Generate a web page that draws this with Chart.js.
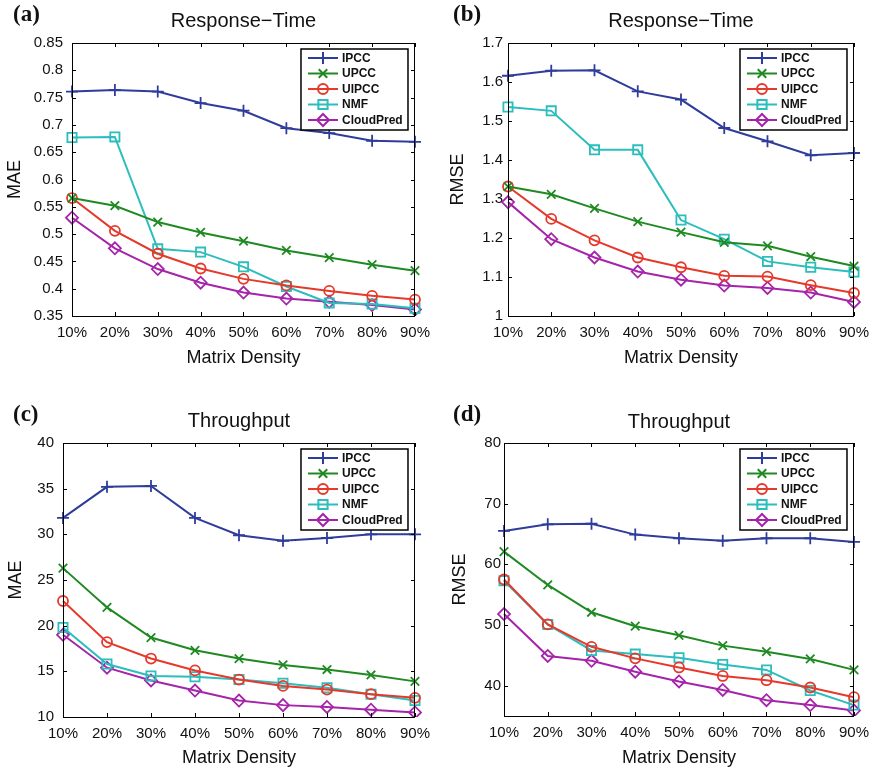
<!DOCTYPE html>
<html>
<head>
<meta charset="utf-8">
<script src="https://cdn.jsdelivr.net/npm/chart.js@4"></script>
<style>
  html, body { margin: 0; padding: 0; background: #fff; }
  #wrap { position: relative; width: 877px; height: 772px; }
  canvas { position: absolute; }
</style>
</head>
<body>
<div id="wrap">
  <canvas id="chartA" style="left:0;top:0"></canvas>
  <canvas id="chartB" style="left:438px;top:0"></canvas>
  <canvas id="chartC" style="left:0;top:386px"></canvas>
  <canvas id="chartD" style="left:438px;top:386px"></canvas>
</div>
<script>
// Data
const densities = ['10%', '20%', '30%', '40%', '50%', '60%', '70%', '80%', '90%'];
const methods = ['IPCC', 'UPCC', 'UIPCC', 'NMF', 'CloudPred'];

// (a) Response-Time MAE
const rtMaeIPCC = [0.761, 0.764, 0.761, 0.740, 0.726, 0.694, 0.685, 0.671, 0.669];
const rtMaeUPCC = [0.566, 0.552, 0.522, 0.503, 0.487, 0.470, 0.457, 0.444, 0.433];
const rtMaeUIPCC = [0.566, 0.506, 0.464, 0.437, 0.418, 0.406, 0.396, 0.387, 0.380];
const rtMaeNMF = [0.677, 0.678, 0.473, 0.467, 0.440, 0.404, 0.374, 0.372, 0.364];
const rtMaeCloudPred = [0.530, 0.474, 0.436, 0.411, 0.393, 0.382, 0.376, 0.370, 0.362];
const rtMaeTicks = [0.35, 0.4, 0.45, 0.5, 0.55, 0.6, 0.65, 0.7, 0.75, 0.8, 0.85];

// (b) Response-Time RMSE
const rtRmseIPCC = [1.616, 1.629, 1.630, 1.576, 1.555, 1.482, 1.448, 1.412, 1.418];
const rtRmseUPCC = [1.332, 1.312, 1.276, 1.242, 1.215, 1.189, 1.180, 1.152, 1.128];
const rtRmseUIPCC = [1.332, 1.249, 1.194, 1.150, 1.125, 1.103, 1.101, 1.079, 1.059];
const rtRmseNMF = [1.536, 1.526, 1.426, 1.426, 1.246, 1.197, 1.140, 1.125, 1.113];
const rtRmseCloudPred = [1.292, 1.197, 1.150, 1.114, 1.093, 1.078, 1.072, 1.060, 1.036];
const rtRmseTicks = [1, 1.1, 1.2, 1.3, 1.4, 1.5, 1.6, 1.7];

// (c) Throughput MAE
const tpMaeIPCC = [31.8, 35.2, 35.3, 31.8, 29.9, 29.3, 29.6, 30.0, 30.0];
const tpMaeUPCC = [26.3, 22.0, 18.7, 17.3, 16.4, 15.7, 15.2, 14.6, 13.9];
const tpMaeUIPCC = [22.7, 18.2, 16.4, 15.1, 14.1, 13.4, 13.0, 12.5, 12.1];
const tpMaeNMF = [19.8, 15.8, 14.5, 14.4, 14.1, 13.7, 13.2, 12.5, 11.8];
const tpMaeCloudPred = [19.0, 15.4, 14.0, 12.9, 11.8, 11.3, 11.1, 10.8, 10.5];
const tpMaeTicks = [10, 15, 20, 25, 30, 35, 40];

// (d) Throughput RMSE
const tpRmseIPCC = [65.5, 66.6, 66.7, 64.9, 64.3, 63.9, 64.3, 64.3, 63.7];
const tpRmseUPCC = [62.1, 56.6, 52.1, 49.8, 48.3, 46.6, 45.6, 44.4, 42.6];
const tpRmseUIPCC = [57.5, 50.1, 46.4, 44.5, 43.0, 41.6, 40.9, 39.7, 38.1];
const tpRmseNMF = [57.3, 50.1, 45.8, 45.2, 44.6, 43.5, 42.6, 39.2, 36.8];
const tpRmseCloudPred = [51.8, 44.9, 44.1, 42.3, 40.7, 39.3, 37.6, 36.8, 35.9];
const tpRmseTicks = [40, 50, 60, 70, 80];

// Series styling (MATLAB-like markers)
const styles = [
    { color: '#2f3c9c', point: 'cross', radius: 6 },
    { color: '#1f8a22', point: 'crossRot', radius: 6 },
    { color: '#e6392b', point: 'circle', radius: 5 },
    { color: '#2cbdbd', point: 'rect', radius: 6.5 },
    { color: '#a524aa', point: 'rectRot', radius: 6 }
];

const FONT = '"Liberation Sans", Arial, sans-serif';

// Draws the box, inward ticks, title, panel label and legend
const matlabPlugin = {
    id: 'matlab',
    afterDatasetsDraw(chart, args, opts) {
        const ctx = chart.ctx;
        const a = chart.chartArea;
        const xs = chart.scales.x;
        const ys = chart.scales.y;
        ctx.save();
        ctx.strokeStyle = '#000';
        ctx.lineWidth = 1;
        ctx.strokeRect(a.left + 0.5, a.top + 0.5, a.right - a.left - 1, a.bottom - a.top);
        ctx.beginPath();
        const tl = 4;
        chart.data.labels.forEach((lbl, i) => {
            const x = Math.round(xs.getPixelForValue(i)) + 0.5;
            ctx.moveTo(x, a.bottom); ctx.lineTo(x, a.bottom - tl);
            ctx.moveTo(x, a.top); ctx.lineTo(x, a.top + tl);
        });
        ys.ticks.forEach(t => {
            const y = Math.round(ys.getPixelForValue(t.value)) + 0.5;
            ctx.moveTo(a.left, y); ctx.lineTo(a.left + tl, y);
            ctx.moveTo(a.right, y); ctx.lineTo(a.right - tl, y);
        });
        ctx.stroke();

        // title and panel label
        ctx.fillStyle = '#111';
        ctx.textAlign = 'center';
        ctx.textBaseline = 'middle';
        ctx.font = '20px ' + FONT;
        ctx.fillText(opts.title, (a.left + a.right) / 2, opts.titleY);
        ctx.textAlign = 'left';
        ctx.font = 'bold 23px "Liberation Serif", "Times New Roman", serif';
        ctx.fillText(opts.label, opts.labelX, opts.labelY);

        // legend box
        const w = 107, h = 81;
        const lx = a.right - 7 - w, ly = a.top + 6;
        ctx.fillStyle = '#fff';
        ctx.fillRect(lx, ly, w, h);
        ctx.lineWidth = 1.5;
        ctx.strokeStyle = '#000';
        ctx.strokeRect(lx, ly, w, h);
        chart.data.datasets.forEach((ds, i) => {
            const y = ly + 9 + i * 15.5;
            ctx.strokeStyle = ds.borderColor;
            ctx.lineWidth = 2;
            ctx.beginPath();
            ctx.moveTo(lx + 7, y); ctx.lineTo(lx + 37, y);
            ctx.stroke();
            ctx.fillStyle = 'rgba(0,0,0,0)';
            ctx.lineWidth = 2;
            Chart.helpers.drawPoint(ctx, { pointStyle: ds.pointStyle, radius: ds.pointRadius, borderWidth: 2, rotation: 0 }, lx + 22, y);
            ctx.fillStyle = '#111';
            ctx.font = 'bold 12px ' + FONT;
            ctx.textAlign = 'left';
            ctx.textBaseline = 'middle';
            ctx.fillText(ds.label, lx + 41, y + 0.5);
        });
        ctx.restore();
    }
};

function makeChart(id, p) {
    const W = p.width, H = 386;
    const canvas = document.getElementById(id);
    const series = p.series.map((vals, i) => ({
        label: methods[i],
        data: vals,
        borderColor: styles[i].color,
        backgroundColor: 'rgba(0,0,0,0)',
        borderWidth: 2,
        pointStyle: styles[i].point,
        pointRadius: styles[i].radius,
        pointBorderWidth: 1.8,
        pointBackgroundColor: 'rgba(0,0,0,0)',
        tension: 0
    }));
    return new Chart(canvas, {
        type: 'line',
        data: { labels: densities, datasets: series },
        options: {
            responsive: false,
            animation: false,
            devicePixelRatio: 1,
            layout: { padding: { top: p.area.top, right: W - p.area.right, left: 0, bottom: 0 } },
            plugins: {
                legend: { display: false },
                tooltip: { enabled: false },
                matlab: { title: p.title, titleY: p.titleY, label: p.label, labelX: p.labelX, labelY: p.labelY }
            },
            scales: {
                x: {
                    type: 'category',
                    offset: false,
                    grid: { display: false, drawTicks: false },
                    border: { display: false },
                    ticks: { color: '#111', font: { family: FONT, size: 15 }, padding: 8, maxRotation: 0, autoSkip: false },
                    title: { display: true, text: 'Matrix Density', color: '#111', font: { family: FONT, size: 18 }, padding: p.xTitlePad },
                    afterFit: s => { s.height = H - p.area.bottom; }
                },
                y: {
                    min: p.yMin,
                    max: p.yMax,
                    grid: { display: false, drawTicks: false },
                    border: { display: false },
                    afterBuildTicks: s => { s.ticks = p.yTicks.map(v => ({ value: v })); },
                    ticks: {
                        color: '#111',
                        font: { family: FONT, size: 15 },
                        padding: p.yTickPad,
                        callback: v => String(+(+v).toFixed(2))
                    },
                    title: { display: true, text: p.yTitle, color: '#111', font: { family: FONT, size: 18 }, padding: p.yTitlePad },
                    afterFit: s => { s.width = p.area.left; }
                }
            }
        },
        plugins: [matlabPlugin]
    }).resize(W, H);
}

// canvas size must be set before Chart.js measures it
[['chartA', 438], ['chartB', 439], ['chartC', 438], ['chartD', 439]].forEach(([id, w]) => {
    const c = document.getElementById(id);
    c.width = w; c.height = 386;
    c.style.width = w + 'px'; c.style.height = '386px';
});

makeChart('chartA', {
    width: 438, area: { left: 72, right: 416, top: 43, bottom: 316 },
    series: [rtMaeIPCC, rtMaeUPCC, rtMaeUIPCC, rtMaeNMF, rtMaeCloudPred],
    yMin: 0.35, yMax: 0.85, yTicks: rtMaeTicks, yTitle: 'MAE',
    title: 'Response\u2212Time', titleY: 21, label: '(a)', labelX: 13, labelY: 15,
    yTickPad: 9, yTitlePad: 4, xTitlePad: 17
});
makeChart('chartB', {
    width: 439, area: { left: 70, right: 419, top: 43, bottom: 316 },
    series: [rtRmseIPCC, rtRmseUPCC, rtRmseUIPCC, rtRmseNMF, rtRmseCloudPred],
    yMin: 1, yMax: 1.7, yTicks: rtRmseTicks, yTitle: 'RMSE',
    title: 'Response\u2212Time', titleY: 21, label: '(b)', labelX: 15, labelY: 15,
    yTickPad: 5, yTitlePad: 9, xTitlePad: 17
});
makeChart('chartC', {
    width: 438, area: { left: 63, right: 416, top: 57, bottom: 331 },
    series: [tpMaeIPCC, tpMaeUPCC, tpMaeUIPCC, tpMaeNMF, tpMaeCloudPred],
    yMin: 10, yMax: 40, yTicks: tpMaeTicks, yTitle: 'MAE',
    title: 'Throughput', titleY: 35, label: '(c)', labelX: 13, labelY: 29,
    yTickPad: 9, yTitlePad: 5, xTitlePad: 3
});
makeChart('chartD', {
    width: 439, area: { left: 66, right: 420, top: 57, bottom: 330 },
    series: [tpRmseIPCC, tpRmseUPCC, tpRmseUIPCC, tpRmseNMF, tpRmseCloudPred],
    yMin: 35, yMax: 80, yTicks: tpRmseTicks, yTitle: 'RMSE',
    title: 'Throughput', titleY: 36, label: '(d)', labelX: 15, labelY: 29,
    yTickPad: 3, yTitlePad: 11, xTitlePad: 3
});
</script>
</body>
</html>
